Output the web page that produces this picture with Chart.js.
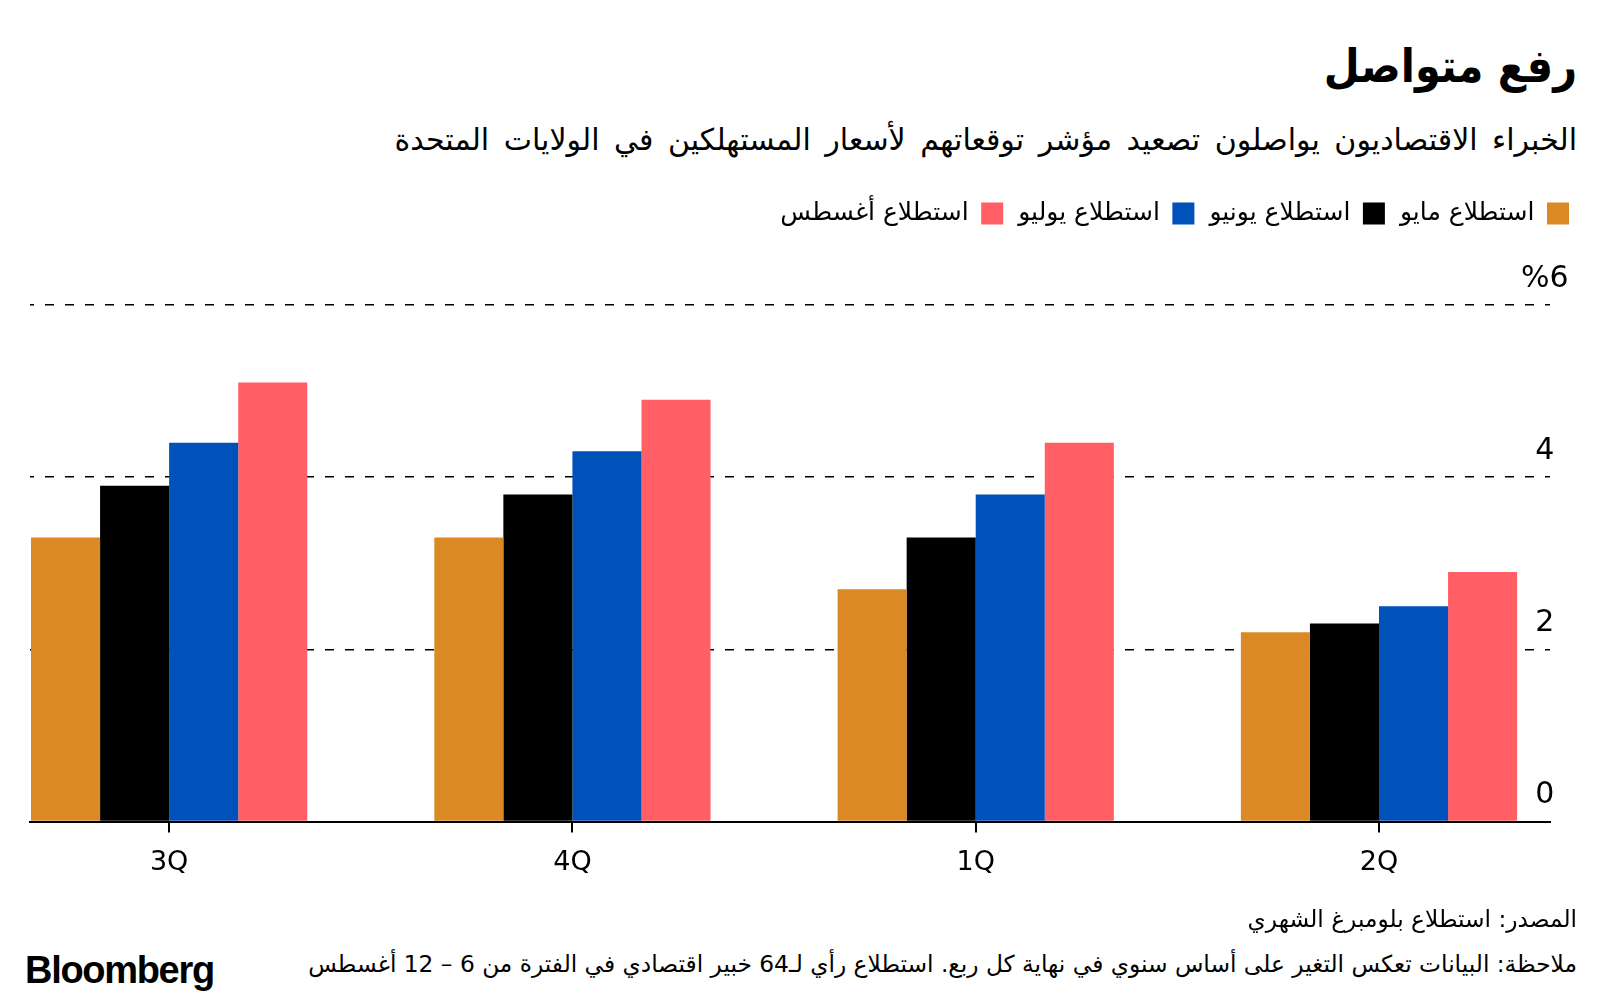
<!DOCTYPE html>
<html lang="ar">
<head>
<meta charset="utf-8">
<script src="https://cdn.jsdelivr.net/npm/chart.js@4"></script>
<style>
  body { margin: 0; background: #fff; }
  #page { position: relative; width: 1600px; height: 1005px; overflow: hidden; background: #fff; }
  .ar { position: absolute; right: 23px; direction: rtl; text-align: right; white-space: nowrap; color: #000;
        font-family: 'DejaVu Sans', sans-serif; }
  #title { top: 36px; font-size: 46px; line-height: 60px; font-weight: bold; font-family: 'DejaVu Sans Condensed', 'DejaVu Sans', sans-serif; }
  #subtitle { top: 122px; font-size: 30px; line-height: 36px; word-spacing: 5px; }
  #source { top: 904px; font-size: 23.3px; line-height: 30px; }
  #note { top: 949px; font-size: 23.3px; line-height: 30px; }
  #logo { position: absolute; left: 25px; top: 949px; font-family: 'Liberation Sans', Arial, sans-serif;
          font-weight: bold; font-size: 38px; line-height: 42px; letter-spacing: -1.3px; color: #000; }
  #chart { position: absolute; left: 0; top: 178px; }
</style>
</head>
<body>
<div id="page">
  <div id="title" class="ar">رفع متواصل</div>
  <div id="subtitle" class="ar">الخبراء الاقتصاديون يواصلون تصعيد مؤشر توقعاتهم لأسعار المستهلكين في الولايات المتحدة</div>
  <canvas id="chart" width="1600" height="729"></canvas>
  <div id="source" class="ar">المصدر: استطلاع بلومبرغ الشهري</div>
  <div id="note" class="ar">ملاحظة: البيانات تعكس التغير على أساس سنوي في نهاية كل ربع. استطلاع رأي لـ64 خبير اقتصادي في الفترة من 6 – 12 أغسطس</div>
  <div id="logo">Bloomberg</div>
</div>
<script>
// quarters (forecast periods)
var quarters = ['3Q', '4Q', '1Q', '2Q'];

// survey series, % year over year
var seriesNames = ['استطلاع مايو', 'استطلاع يونيو', 'استطلاع يوليو', 'استطلاع أغسطس'];
var maySurvey = [3.3, 3.3, 2.7, 2.2];
var juneSurvey = [3.9, 3.8, 3.3, 2.3];
var julySurvey = [4.4, 4.3, 3.8, 2.5];
var augustSurvey = [5.1, 4.9, 4.4, 2.9];
var seriesColors = ['#DA8924', '#000000', '#0051BA', '#FF5F65'];

var yTicks = [0, 2, 4, 6];

var arabicFont = "'DejaVu Sans', sans-serif";
var numFont = "'DejaVu Sans', sans-serif";

function toPoints(values) {
    return values.map(function(v, i) { return { x: i, y: v }; });
}

var allSeries = [maySurvey, juneSurvey, julySurvey, augustSurvey];
var datasets = [];
for (var i = 0; i < allSeries.length; i++) {
    datasets.push({
        label: seriesNames[i],
        data: toPoints(allSeries[i]),
        backgroundColor: seriesColors[i],
        borderWidth: 0,
        barPercentage: 1,
        categoryPercentage: 0.685
    });
}

// push the plot area down below the legend
var legendGap = {
    id: 'legendGap',
    afterInit: function(chart) {
        var legend = chart.legend;
        var fit = legend.fit;
        legend.fit = function() {
            fit.call(this);
            this.height += 69;
        };
    }
};

var ctx = document.getElementById('chart').getContext('2d');
var chart = new Chart(ctx, {
    type: 'bar',
    data: { datasets: datasets },
    plugins: [legendGap],
    options: {
        responsive: false,
        animation: false,
        layout: { padding: { left: 30, right: 16, top: 8, bottom: 14 } },
        plugins: {
            tooltip: { enabled: false },
            legend: {
                position: 'top',
                align: 'start',
                rtl: true,
                textDirection: 'rtl',
                labels: {
                    boxWidth: 22,
                    boxHeight: 22,
                    padding: 15,
                    color: '#000',
                    font: { family: arabicFont, size: 25 }
                }
            }
        },
        scales: {
            x: {
                type: 'linear',
                min: -0.345,
                max: 3.424,
                offset: false,
                afterBuildTicks: function(scale) {
                    scale.ticks = quarters.map(function(q, i) { return { value: i }; });
                },
                ticks: {
                    padding: 14,
                    color: '#000',
                    font: { family: numFont, size: 27 },
                    callback: function(value) { return quarters[value]; }
                },
                grid: { offset: false, drawOnChartArea: false, drawTicks: true, tickLength: 11, color: '#000', lineWidth: 2 },
                border: { display: true, color: '#000', width: 2 }
            },
            y: {
                position: 'right',
                min: 0,
                max: 6,
                afterBuildTicks: function(scale) {
                    scale.ticks = yTicks.map(function(v) { return { value: v }; });
                },
                afterFit: function(scale) {
                    scale.width = 34;
                    // labels sit partly over the plot, so don't clip them to the axis box
                    scale._computeLabelArea = function() { return undefined; };
                },
                ticks: {
                    crossAlign: 'center',
                    padding: -29,
                    labelOffset: -26,
                    color: '#000',
                    font: { family: numFont, size: 30 },
                    callback: function(value) { return value === 6 ? '%6' : String(value); }
                },
                grid: {
                    drawTicks: false,
                    lineWidth: 1.5,
                    color: function(c) { return c.tick && c.tick.value === 0 ? 'rgba(0,0,0,0)' : '#000'; }
                },
                border: { display: false, dash: [9, 11], dashOffset: 5 }
            }
        }
    }
});
</script>
</body>
</html>
